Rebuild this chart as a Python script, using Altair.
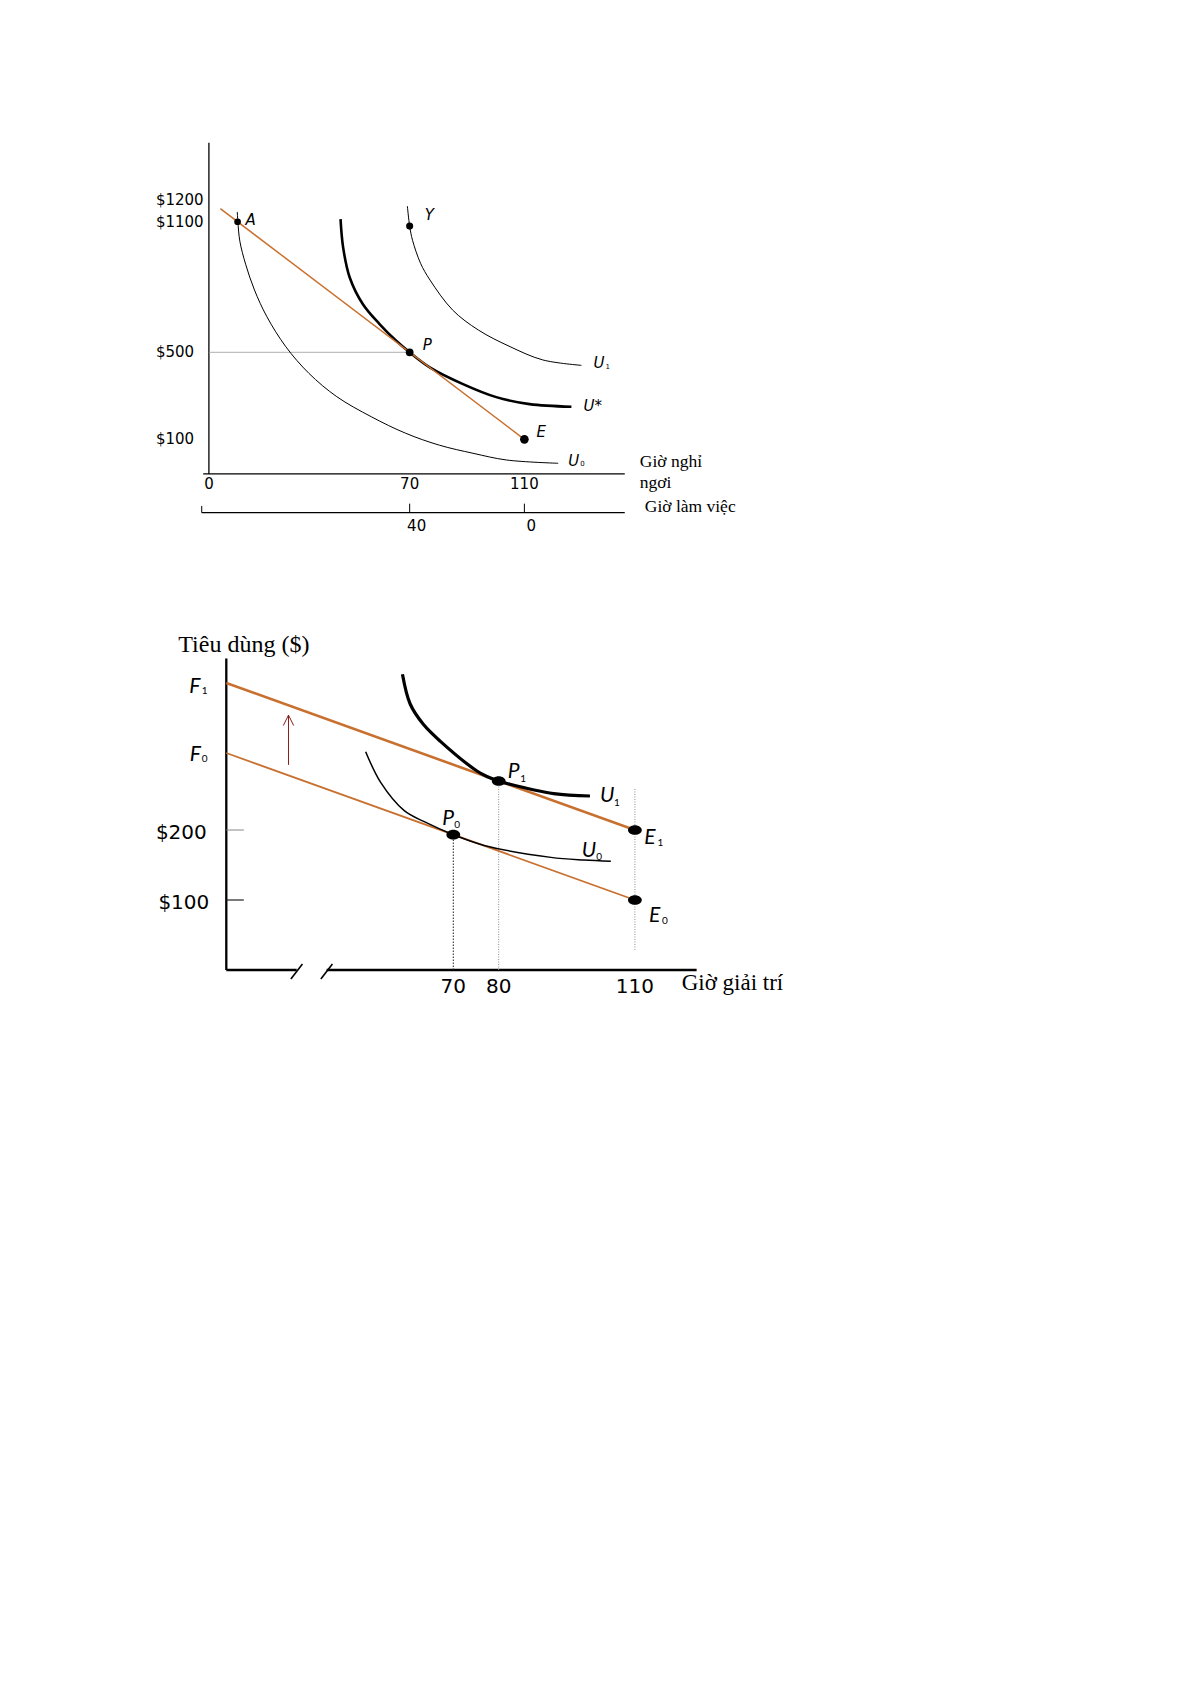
import numpy as np
import pandas as pd
import altair as alt

# ======================= TOP DIAGRAM : values =======================
top_money_ticks = [1200, 1100, 500, 100]
top_money_labels = ["$1200", "$1100", "$500", "$100"]
top_leisure_ticks = [0, 70, 110]
top_work_ticks = [40, 0]
top_total_hours = 110

top_point_names = ["A", "P", "E", "Y"]
top_point_h = [10, 70, 110, 70]
top_point_v = [1100, 500, 100, 1080]

top_budget_h = [4, 110]
top_budget_v = [1160, 100]

top_u0_h = [9.9, 10.1, 10.8, 12.8, 15.9, 20.2, 26.8, 34.9, 44.6, 56.6, 68.6, 80.4, 92.1, 103.8, 121.8]
top_u0_v = [1145, 1100, 1010, 905, 786, 664, 526, 403, 296, 204, 128, 73, 36, 5, -10]
top_ustar_h = [45.9, 46.8, 49.1, 53.7, 59.5, 65.3, 70.0, 77.0, 88.6, 100.2, 111.8, 126.4]
top_ustar_v = [1112, 982, 844, 721, 630, 553, 500, 431, 354, 294, 262, 250]
top_u1_h = [69.2, 70.0, 71.0, 73.8, 77.1, 85.0, 94.0, 105.0, 116.4, 129.9]
top_u1_v = [1172, 1080, 1015, 909, 832, 694, 602, 526, 465, 440]

# ======================= BOTTOM DIAGRAM : values =======================
bot_money_ticks = [200, 100]
bot_money_labels = ["$200", "$100"]
bot_leisure_ticks = [70, 80, 110]
bot_budget_h = [20, 110]
bot_f0_v = [310, 100]
bot_f1_v = [410, 200]

bot_point_names = ["P0", "P1", "E0", "E1"]
bot_point_h = [70, 80, 110, 110]
bot_point_v = [193.3, 270, 100, 200]

bot_u0_h = [50.7, 54.0, 59.2, 63.6, 70.0, 76.8, 91.5, 98.8, 104.7]
bot_u0_v = [311.9, 268.0, 227.6, 211.9, 193.3, 178.0, 160.9, 157.0, 155.2]
bot_u1_h = [58.8, 60.5, 63.4, 67.1, 75.2, 77.4, 80.0, 82.5, 92.1, 100.1]
bot_u1_v = [422.5, 380.0, 351.0, 327.0, 284.3, 276.5, 270.0, 265.3, 252.0, 248.6]

bot_break_h = [35.5, 42.1]

# ======================= helpers =======================
ORANGE = "#c8702f"
SANS = "DejaVu Sans"
SERIF = "Liberation Serif"
LATO = "Lato"
CURVE = "catmull-rom"


def frame(h, v):
    return pd.DataFrame({"h": list(h), "v": list(v), "o": list(range(len(h)))})


class Panel:
    def __init__(self, x0, kx, y0, ky, W, H):
        self.kx, self.ky, self.W, self.H = kx, ky, W, H
        self.xs = alt.Scale(domain=[-x0 / kx, (W - x0) / kx], nice=False, zero=False)
        self.ys = alt.Scale(domain=[(y0 - H) / ky, y0 / ky], nice=False, zero=False)
        self.layers = []

    def X(self):
        return alt.X("h:Q", scale=self.xs, axis=None)

    def Y(self):
        return alt.Y("v:Q", scale=self.ys, axis=None)

    def line(self, h, v, color="black", width=1.0, dash=None, interp="linear"):
        kw = dict(color=color, strokeWidth=width, interpolate=interp, strokeCap="butt")
        if dash:
            kw["strokeDash"] = dash
        self.layers.append(
            alt.Chart(frame(h, v)).mark_line(**kw).encode(x=self.X(), y=self.Y(), order="o:Q")
        )

    def text(self, h, v, t, dx=0, dy=0, size=15, font=SANS, style="normal",
             align="left", color="black"):
        df = pd.DataFrame({"h": [h], "v": [v], "t": [t]})
        self.layers.append(
            alt.Chart(df).mark_text(dx=dx, dy=dy, fontSize=size, font=font, fontStyle=style,
                                    align=align, baseline="middle", color=color)
            .encode(x=self.X(), y=self.Y(), text="t:N")
        )

    def points(self, h, v, size, shape="circle", filled=True, color="black", width=1.0):
        self.layers.append(
            alt.Chart(frame(h, v)).mark_point(shape=shape, size=size, filled=filled, color=color,
                                              opacity=1, strokeWidth=width)
            .encode(x=self.X(), y=self.Y())
        )

    def chart(self):
        return alt.layer(*self.layers).properties(width=self.W, height=self.H)


# ======================= TOP PANEL =======================
T = Panel(200.9, 2.868, 453.1, 0.2176, 1170, 560)
T_AXIS_V, T_WORK_V, T_TOP_V = -59, -237, 1463
T_LEFT_H, T_RIGHT_H = -2.0, 145.0
tick_len_v = 9 / T.ky

T.line([0, 0], [T_AXIS_V, T_TOP_V], width=1.3)
T.line([T_LEFT_H, T_RIGHT_H], [T_AXIS_V, T_AXIS_V], width=1.3)
T.line([T_LEFT_H - 0.5, T_RIGHT_H], [T_WORK_V, T_WORK_V], width=1.3)
T.line([T_LEFT_H - 0.5, T_LEFT_H - 0.5], [T_WORK_V, T_WORK_V + tick_len_v * 0.75], width=1.0)
for w in top_work_ticks:
    hh = top_total_hours - w
    T.line([hh, hh], [T_WORK_V, T_WORK_V + tick_len_v], width=1.0)
    T.text(hh, T_WORK_V, str(w), dx=7, dy=13, align="center")

for val, lab in zip(top_money_ticks, top_money_labels):
    T.text(0, val, lab, dx=-53, dy=0, align="left")
for hh in top_leisure_ticks:
    T.text(hh, T_AXIS_V, str(hh), dy=10, align="center")

# guide at $500
T.line([0, top_point_h[1]], [top_point_v[1], top_point_v[1]], color="#9a9a9a", width=0.8)

# indifference curves and budget line
T.line(top_u0_h, top_u0_v, width=1.0, interp=CURVE)
T.line(top_ustar_h, top_ustar_v, width=2.6, interp=CURVE)
T.line(top_u1_h, top_u1_v, width=1.0, interp=CURVE)
T.line(top_budget_h, top_budget_v, color=ORANGE, width=1.5)

sizes = {"A": 45, "P": 60, "E": 75, "Y": 50}
offs = {"A": (8, -2), "P": (13, -7), "E": (12, -7), "Y": (15, -11)}
for n, hh, vv in zip(top_point_names, top_point_h, top_point_v):
    T.points([hh], [vv], sizes[n])
    T.text(hh, vv, n, dx=offs[n][0], dy=offs[n][1], size=15, style="italic")

T.text(top_u1_h[-1], top_u1_v[-1], "U", dx=12, dy=-2, size=15, style="italic")
T.text(top_u1_h[-1], top_u1_v[-1], "1", dx=24, dy=2, size=7)
T.text(top_ustar_h[-1], top_ustar_v[-1], "U*", dx=12, dy=-1, size=15, style="italic")
T.text(top_u0_h[-1], top_u0_v[-1], "U", dx=10, dy=-2, size=15, style="italic")
T.text(top_u0_h[-1], top_u0_v[-1], "0", dx=22, dy=1, size=7)

T.text(T_RIGHT_H, T_AXIS_V, "Giờ nghỉ", dx=15, dy=-12, size=17.5, font=SERIF)
T.text(T_RIGHT_H, T_AXIS_V, "ngơi", dx=15, dy=9.5, size=17.5, font=SERIF)
T.text(T_RIGHT_H, T_WORK_V, "Giờ làm việc", dx=20, dy=-6, size=17.5, font=SERIF)

# ======================= BOTTOM PANEL =======================
B = Panel(127.5, 4.54, 402, 0.7, 1170, 1100)
B_AXIS_H, B_TOP_V, B_RIGHT_H = 20, 445, 123.6

B.line([B_AXIS_H, B_AXIS_H], [0, B_TOP_V], width=2.3)
B.line([B_AXIS_H, bot_break_h[0]], [0, 0], width=2.3)
B.line([bot_break_h[1], B_RIGHT_H], [0, 0], width=2.3)
B.points(bot_break_h, [-2, -2], 225, shape="M-0.77,1L0.77,-1", filled=False, width=1.6)

tick_len_h = 17.5 / B.kx
B.line([B_AXIS_H, B_AXIS_H + tick_len_h], [200, 200], color="#888888", width=1.0)
B.line([B_AXIS_H, B_AXIS_H + tick_len_h], [100, 100], color="#222222", width=1.2)
B.text(B_AXIS_H, 200, bot_money_labels[0], dx=-19.5, dy=3, size=20, align="right")
B.text(B_AXIS_H, 100, bot_money_labels[1], dx=-17, dy=3.3, size=20, align="right")
for hh in bot_leisure_ticks:
    B.text(hh, 0, str(hh), dy=17, size=20, align="center")

B.text(B_AXIS_H, B_TOP_V, "Tiêu dùng ($)", dx=-48, dy=-14, size=24, font=SERIF)
B.text(B_RIGHT_H, 0, "Giờ giải trí", dx=-15, dy=13, size=23, font=SERIF)

# dotted drop lines
B.line([70, 70], [0, bot_point_v[0]], color="#222222", width=1.0, dash=[1.5, 1.5])
B.line([80, 80], [0, bot_point_v[1]], color="#8a8a8a", width=1.0, dash=[1, 1.5])
B.line([110, 110], [28.6, 259.6], color="#8a8a8a", width=1.0, dash=[1, 1.5])

# budget lines
B.line(bot_budget_h, bot_f0_v, color=ORANGE, width=1.8)
B.line(bot_budget_h, bot_f1_v, color=ORANGE, width=2.6)

# shift arrow between the two budget lines
arrow_h = 33.7
a_lo = float(np.interp(arrow_h, bot_budget_h, bot_f0_v)) + 15
a_hi = float(np.interp(arrow_h, bot_budget_h, bot_f1_v)) - 14
B.line([arrow_h, arrow_h], [a_lo, a_hi], color="#8b1c1c", width=1.0)
B.points([arrow_h], [a_hi], 108, shape="M-1,2L0,0L1,2", filled=False, color="#8b1c1c", width=1.0)

# indifference curves
B.line(bot_u0_h, bot_u0_v, width=1.5, interp=CURVE)
B.line(bot_u1_h, bot_u1_v, width=3.2, interp=CURVE)

ELL = "M-1,0A1,0.7 0 1,0 1,0A1,0.7 0 1,0 -1,0Z"
B.points(bot_point_h, bot_point_v, 190, shape=ELL)

# labels
B.text(B_AXIS_H, bot_f1_v[0], "F", dx=-37, dy=3.7, size=21, font=LATO, style="italic")
B.text(B_AXIS_H, bot_f1_v[0], "1", dx=-24.5, dy=8, size=10, font=LATO)
B.text(B_AXIS_H, bot_f0_v[0], "F", dx=-36.6, dy=2, size=21, font=LATO, style="italic")
B.text(B_AXIS_H, bot_f0_v[0], "0", dx=-24.5, dy=6.3, size=10, font=LATO)

lab = {"P1": (9, -9.5, 21.5, -1.7), "P0": (-11, -16, 1, -9.2),
       "E1": (9.3, 7.7, 22.5, 12.7), "E0": (14, 16, 27, 21)}
for n, hh, vv in zip(bot_point_names, bot_point_h, bot_point_v):
    d = lab[n]
    B.text(hh, vv, n[0], dx=d[0], dy=d[1], size=21, font=LATO, style="italic")
    B.text(hh, vv, n[1], dx=d[2], dy=d[3], size=10, font=LATO)

B.text(bot_u1_h[-1], bot_u1_v[-1], "U", dx=10, dy=0, size=21, font=LATO, style="italic")
B.text(bot_u1_h[-1], bot_u1_v[-1], "1", dx=24, dy=6.7, size=10, font=LATO)
B.text(bot_u0_h[-1], bot_u0_v[-1], "U", dx=-29, dy=-10.7, size=21, font=LATO, style="italic")
B.text(bot_u0_h[-1], bot_u0_v[-1], "0", dx=-14.5, dy=-4.7, size=10, font=LATO)

chart = alt.VConcatChart(
    vconcat=[T.chart(), B.chart()], spacing=0, bounds="flush", padding=0,
    background="white",
).configure_view(stroke=None)

chart.save("out.html", embed_options={"renderer": "svg", "actions": False})
